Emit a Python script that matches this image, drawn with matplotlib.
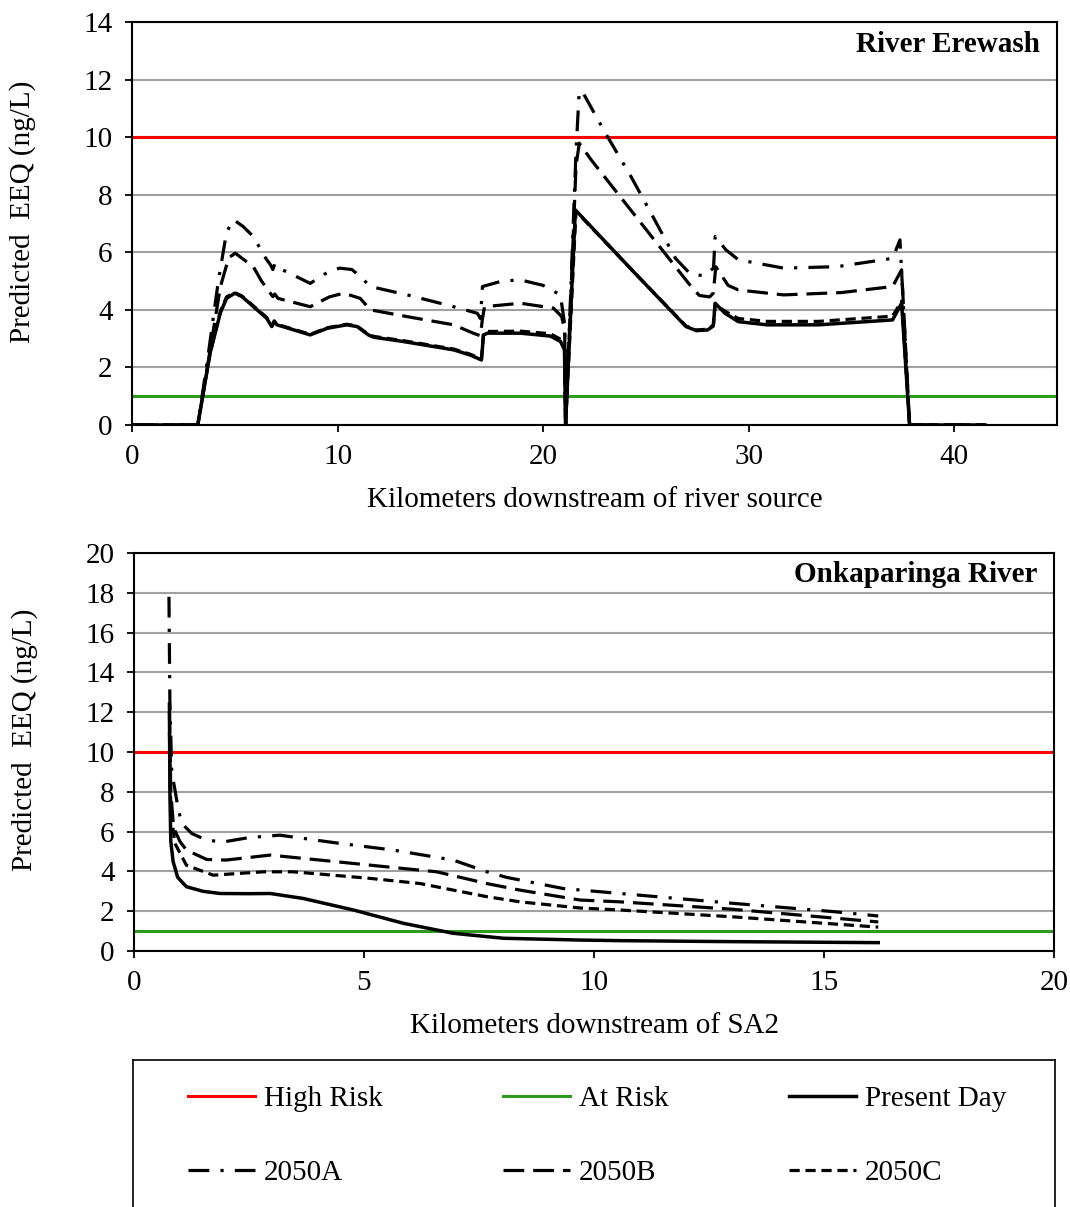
import matplotlib
matplotlib.use("Agg")
import matplotlib.pyplot as plt

plt.rcParams['font.family'] = ['Liberation Serif', 'DejaVu Serif']
plt.rcParams['font.size'] = 21
plt.rcParams['mathtext.default'] = 'regular'

# River Erewash (km downstream of source, EEQ ng/L)
ere_pd_x = [0, 3.2, 3.8, 4.3, 4.6, 5.0, 5.35, 6.55, 6.8, 6.92, 7.05, 8.67, 9.5, 10.45, 10.95,
            11.5, 11.75, 13.2, 15.65, 16.45, 17.0, 17.1, 17.3, 18.9, 20.35, 20.85, 21.04, 21.09,
            21.57, 24.3, 26.95, 27.45, 28.0, 28.28, 28.37, 28.85, 29.5, 30.9, 33.4, 37.0, 37.44,
            37.83, 41.5]
ere_pd_y = [0, 0, 2.5, 3.9, 4.4, 4.58, 4.46, 3.71, 3.42, 3.59, 3.48, 3.13, 3.36, 3.48, 3.42,
            3.13, 3.05, 2.9, 2.61, 2.43, 2.26, 3.13, 3.19, 3.19, 3.09, 2.9, 2.61, 0,
            7.47, 5.4, 3.42, 3.28, 3.3, 3.44, 4.23, 3.88, 3.59, 3.48, 3.48, 3.65, 4.23,
            0, 0]

ere_c_x = [0, 3.2, 3.8, 4.3, 4.6, 5.0, 5.35, 6.55, 6.8, 6.92, 7.05, 8.67, 9.5, 10.45, 10.95,
           11.5, 11.75, 13.2, 15.65, 16.45, 17.0, 17.1, 17.3, 18.9, 20.35, 20.85, 21.04, 21.09,
           21.6, 24.3, 26.95, 27.45, 28.0, 28.28, 28.37, 28.85, 29.5, 30.9, 33.4, 37.0, 37.44,
           37.83, 41.5]
ere_c_y = [0, 0, 2.5, 3.95, 4.45, 4.6, 4.48, 3.74, 3.45, 3.62, 3.5, 3.15, 3.38, 3.5, 3.44,
           3.15, 3.08, 2.93, 2.64, 2.46, 2.3, 3.2, 3.25, 3.26, 3.17, 2.98, 2.7, 0,
           7.42, 5.4, 3.44, 3.3, 3.33, 3.47, 4.2, 3.95, 3.7, 3.6, 3.6, 3.78, 4.3,
           0, 0]

ere_b_x = [0, 3.2, 3.8, 4.3, 4.7, 5.02, 5.9, 6.3, 6.85, 6.95, 7.1, 8.67, 9.6, 10.3, 11.1,
           11.6, 13.5, 15.65, 16.6, 16.95, 17.05, 17.15, 18.9, 20.5, 20.9, 21.05, 21.1,
           21.6, 21.76, 22.35, 27.1, 27.6, 28.1, 28.28, 28.4, 29.0, 29.5, 31.7, 34.5, 37.0,
           37.44, 37.83, 41.5]
ere_b_y = [0, 0, 2.6, 4.8, 5.8, 5.97, 5.5, 5.0, 4.46, 4.55, 4.4, 4.11, 4.45, 4.58, 4.4,
           4.0, 3.75, 3.48, 3.19, 3.1, 3.7, 4.11, 4.23, 4.06, 3.77, 3.3, 0,
           9.0, 9.79, 9.2, 4.9, 4.5, 4.45, 4.58, 5.5, 4.85, 4.69, 4.52, 4.6, 4.81,
           5.39, 0, 0]

ere_a_x = [0, 3.2, 3.7, 4.2, 4.6, 4.94, 5.4, 5.9, 6.5, 6.75, 6.85, 6.95, 7.15, 8.67, 9.5,
           10.1, 10.7, 11.1, 11.6, 13.5, 15.65, 16.8, 16.95, 17.05, 18.0, 18.9, 20.0, 20.84,
           21.05, 21.1, 21.6, 21.75, 21.88, 23.03, 24.23, 25.34, 26.44, 27.13, 27.8, 28.29,
           28.37, 28.9, 29.5, 31.7, 34.3, 37.0, 37.36, 37.83, 41.5]
ere_a_y = [0, 0, 2.4, 5.0, 6.7, 7.13, 6.9, 6.55, 5.8, 5.55, 5.4, 5.6, 5.45, 4.92, 5.3,
           5.45, 5.4, 5.16, 4.81, 4.5, 4.11, 3.88, 3.7, 4.81, 5.0, 5.04, 4.85, 4.52,
           3.5, 0, 9.5, 11.5, 11.62, 10.14, 8.69, 7.24, 5.79, 5.27, 5.18, 5.45,
           6.55, 6.08, 5.74, 5.45, 5.5, 5.79, 6.43, 0, 0]

# Onkaparinga River (km downstream of SA2)
onk_pd_x = [0.77, 0.78, 0.80, 0.85, 0.95, 1.14, 1.5, 1.87, 2.5, 2.96, 3.68, 4.77, 5.86, 6.94,
            8.03, 9.7, 10.57, 13.0, 16.18]
onk_pd_y = [12.4, 8.0, 5.5, 4.5, 3.7, 3.23, 3.0, 2.89, 2.88, 2.89, 2.64, 2.06, 1.39, 0.89,
            0.64, 0.55, 0.52, 0.47, 0.42]

onk_a_x = [0.76, 0.78, 0.82, 0.89, 0.96, 1.04, 1.26, 1.58, 1.94, 2.5, 3.17, 4.4, 5.64, 6.94,
           7.67, 8.1, 9.33, 10.57, 13.0, 15.2, 16.18]
onk_a_y = [17.8, 12.5, 9.0, 8.1, 7.15, 6.4, 5.9, 5.57, 5.48, 5.7, 5.82, 5.43, 5.07, 4.57,
           3.98, 3.7, 3.14, 2.89, 2.4, 1.98, 1.76]

onk_b_x = [0.77, 0.80, 0.86, 1.0, 1.14, 1.58, 2.0, 2.96, 4.04, 5.49, 6.58, 7.67, 8.39, 9.7,
           10.57, 13.0, 16.18]
onk_b_y = [12.0, 8.0, 6.2, 5.5, 5.07, 4.6, 4.57, 4.82, 4.57, 4.23, 3.98, 3.39, 3.06, 2.56,
           2.47, 2.1, 1.46]

onk_c_x = [0.77, 0.80, 0.89, 1.14, 1.72, 2.81, 3.46, 5.13, 6.22, 6.94, 7.67, 8.39, 9.7,
           10.57, 13.0, 16.18]
onk_c_y = [11.0, 7.0, 5.4, 4.31, 3.81, 3.98, 3.98, 3.65, 3.39, 3.06, 2.73, 2.47, 2.16,
           2.06, 1.72, 1.2]

high_risk = 10
at_risk = 1

red = '#ff0000'
green = '#2e9a1e'
grid_c = '#a0a0a0'
lw = 2.3
style_a = (0, (6.5, 3.5, 1, 3.5))
style_b = (0, (6.5, 2.8))
style_c = (0, (3.2, 1.8))

fig = plt.figure(figsize=(10.7, 12.07), dpi=100)
ax1 = fig.add_axes([132 / 1070, 1 - 425 / 1207, 925 / 1070, 403 / 1207])
ax2 = fig.add_axes([134 / 1070, 1 - 951 / 1207, 920 / 1070, 398 / 1207])


def style_axes(ax, xmax, ymax, xstep, xlabel, title):
    ax.set_xlim(0, xmax)
    ax.set_ylim(0, ymax)
    ax.set_xticks(range(0, xmax + 1, xstep))
    ax.set_yticks(range(0, ymax + 1, 2))
    ax.yaxis.grid(True, color=grid_c, lw=1.5)
    ax.set_axisbelow(True)
    for s in ax.spines.values():
        s.set_linewidth(1.5)
    ax.tick_params(direction='out', length=5, width=1.3, pad=9)
    ax.set_xlabel(xlabel, labelpad=12)
    ax.set_ylabel('Predicted  EEQ (ng/L)')
    ax.yaxis.set_label_coords(-0.104, 0.53)
    ax.text(0.982, 0.945, title, transform=ax.transAxes, ha='right', va='center',
            fontweight='bold')


style_axes(ax1, 45, 14, 10, 'Kilometers downstream of river source', 'River Erewash')
style_axes(ax2, 20, 20, 5, 'Kilometers downstream of SA2', 'Onkaparinga River')

for ax in (ax1, ax2):
    ax.axhline(high_risk, color=red, lw=2.2, label='High Risk')
    ax.axhline(at_risk, color=green, lw=2.2, label='At Risk')

ax1.plot(ere_a_x, ere_a_y, color='black', lw=lw, ls=style_a, label='2050A')
ax1.plot(ere_b_x, ere_b_y, color='black', lw=lw, ls=style_b, label='2050B')
ax1.plot(ere_c_x, ere_c_y, color='black', lw=lw, ls=style_c, label='2050C')
ax1.plot(ere_pd_x, ere_pd_y, color='black', lw=2.5, label='Present Day')

ax2.plot(onk_a_x, onk_a_y, color='black', lw=lw, ls=style_a)
ax2.plot(onk_b_x, onk_b_y, color='black', lw=lw, ls=style_b)
ax2.plot(onk_c_x, onk_c_y, color='black', lw=lw, ls=style_c)
ax2.plot(onk_pd_x, onk_pd_y, color='black', lw=2.5)

# legend panel
lax = fig.add_axes([133 / 1070, -0.02, 922 / 1070, 147 / 1207 + 0.02])
lax.set_xticks([])
lax.set_yticks([])
for s in lax.spines.values():
    s.set_linewidth(1.2)
h, l = ax1.get_legend_handles_labels()
# column-major order so rows read High Risk / At Risk / Present Day, then 2050A-C
order = ['High Risk', '2050A', 'At Risk', '2050B', 'Present Day', '2050C']
handles = [h[l.index(name)] for name in order]
lax_h = 147 + 0.02 * 1207
yc = (1207 + 0.02 * 1207 - 1136) / lax_h
lax.legend(handles, order, ncol=3, mode='expand', loc='center', frameon=False,
           bbox_to_anchor=(55 / 922, yc, 818 / 922, 0), borderaxespad=0, borderpad=0,
           handlelength=2.3, handletextpad=0.3, labelspacing=1.65)

fig.savefig('out.png', dpi=100)
